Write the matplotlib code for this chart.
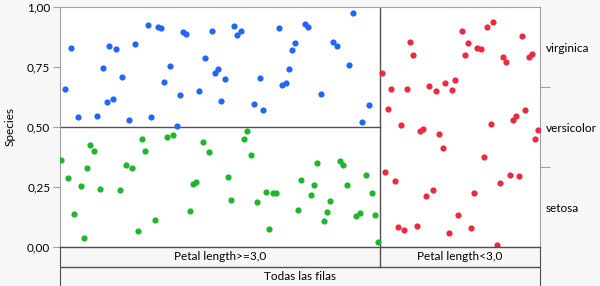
import matplotlib.pyplot as plt

plt.rcParams['font.family'] = ['Lato', 'DejaVu Sans']

# species on the right axis, bottom to top, with row counts
species = ["setosa", "versicolor", "virginica"]
species_counts = [50, 50, 50]
species_colors = {"virginica": "#2266f7", "versicolor": "#1fb52e", "setosa": "#ea2a40"}

# partition: left split / right split
split_labels = ["Petal length>=3,0", "Petal length<3,0"]
split_counts = [100, 50]
left_virginica_share = 0.5
all_rows_label = "Todas las filas"

y_ticks = [0.0, 0.25, 0.5, 0.75, 1.0]
y_ticklabels = ["0,00", "0,25", "0,50", "0,75", "1,00"]

# jittered point positions (x as share of all rows, y as probability)
virginica_x = [0.010, 0.023, 0.037, 0.077, 0.090, 0.097, 0.103, 0.110, 0.117, 0.130,
               0.143, 0.156, 0.183, 0.190, 0.204, 0.210, 0.216, 0.230, 0.243, 0.250,
               0.256, 0.263, 0.290, 0.303, 0.317, 0.323, 0.330, 0.336, 0.343, 0.363,
               0.369, 0.377, 0.404, 0.417, 0.423, 0.456, 0.463, 0.470, 0.477, 0.483,
               0.490, 0.510, 0.517, 0.543, 0.569, 0.577, 0.603, 0.610, 0.630, 0.643]
virginica_y = [0.657, 0.830, 0.542, 0.545, 0.746, 0.605, 0.836, 0.618, 0.826, 0.707,
               0.529, 0.847, 0.926, 0.540, 0.915, 0.914, 0.688, 0.755, 0.504, 0.633,
               0.897, 0.886, 0.650, 0.786, 0.901, 0.724, 0.743, 0.607, 0.700, 0.920,
               0.885, 0.899, 0.595, 0.705, 0.570, 0.911, 0.676, 0.685, 0.742, 0.822,
               0.851, 0.929, 0.915, 0.639, 0.853, 0.836, 0.760, 0.974, 0.520, 0.590]

versicolor_x = [0.003, 0.016, 0.030, 0.043, 0.050, 0.056, 0.063, 0.070, 0.083, 0.124,
                0.137, 0.150, 0.163, 0.170, 0.177, 0.197, 0.223, 0.236, 0.270, 0.277,
                0.283, 0.297, 0.310, 0.350, 0.356, 0.383, 0.390, 0.397, 0.410, 0.430,
                0.436, 0.443, 0.450, 0.496, 0.503, 0.523, 0.530, 0.536, 0.549, 0.556,
                0.563, 0.583, 0.590, 0.597, 0.617, 0.624, 0.637, 0.650, 0.657, 0.663]
versicolor_y = [0.361, 0.288, 0.138, 0.255, 0.036, 0.330, 0.426, 0.400, 0.240, 0.236,
                0.342, 0.328, 0.067, 0.450, 0.401, 0.113, 0.458, 0.468, 0.150, 0.264,
                0.272, 0.439, 0.395, 0.292, 0.196, 0.449, 0.483, 0.382, 0.186, 0.228,
                0.075, 0.226, 0.224, 0.155, 0.278, 0.215, 0.258, 0.349, 0.108, 0.145,
                0.190, 0.358, 0.342, 0.257, 0.128, 0.142, 0.299, 0.225, 0.135, 0.021]

setosa_x = [0.670, 0.690, 0.683, 0.710, 0.723, 0.730, 0.736, 0.750, 0.757, 0.769,
            0.783, 0.790, 0.803, 0.817, 0.823, 0.837, 0.843, 0.850, 0.869, 0.877,
            0.890, 0.903, 0.897, 0.923, 0.930, 0.943, 0.950, 0.963, 0.969, 0.977,
            0.983, 0.996, 0.990, 0.797, 0.883, 0.677, 0.697, 0.763, 0.777, 0.863,
            0.917, 0.937, 0.957, 0.830, 0.704, 0.717, 0.743, 0.810, 0.857, 0.910]
setosa_y = [0.724, 0.660, 0.574, 0.510, 0.660, 0.853, 0.800, 0.482, 0.492, 0.671,
            0.651, 0.472, 0.685, 0.655, 0.695, 0.900, 0.801, 0.851, 0.830, 0.825,
            0.917, 0.936, 0.513, 0.793, 0.770, 0.529, 0.547, 0.878, 0.572, 0.790,
            0.803, 0.486, 0.449, 0.414, 0.375, 0.313, 0.275, 0.211, 0.236, 0.224,
            0.265, 0.300, 0.297, 0.133, 0.083, 0.071, 0.089, 0.060, 0.079, 0.007]

bg = "#f7f7f7"
light = "#a0a0a0"
dark = "#505050"
fs = 8.5

fig = plt.figure(figsize=(6, 2.86), dpi=100, facecolor=bg)
ax = fig.add_axes([60 / 600, 39 / 286, 480 / 600, 240 / 286])
ax.set_facecolor("white")
ax.set_xlim(0, 1)
ax.set_ylim(0, 1)

split = split_counts[0] / sum(split_counts)

points = {"virginica": (virginica_x, virginica_y),
          "versicolor": (versicolor_x, versicolor_y),
          "setosa": (setosa_x, setosa_y)}
for name, (xs, ys) in points.items():
    ax.scatter(xs, ys, s=20, color=species_colors[name], linewidths=0, zorder=3)

ax.axvline(split, color=dark, lw=1, zorder=2)
ax.axhline(left_virginica_share, xmin=0, xmax=split, color=dark, lw=1, zorder=2)

ax.set_xticks([])
ax.set_yticks(y_ticks)
ax.set_yticklabels(y_ticklabels, fontsize=fs)
ax.tick_params(axis="y", length=5, color=light, pad=2)
ax.set_ylabel("Species", fontsize=fs, labelpad=8)
for side in ["top", "left", "right"]:
    ax.spines[side].set_color(light)
ax.spines["bottom"].set_color(dark)

# right axis: overall species shares
ax2 = ax.twinx()
ax2.set_ylim(0, 1)
total = sum(species_counts)
bounds = []
mids = []
acc = 0
for c in species_counts:
    mids.append((acc + c / 2) / total)
    acc += c
    bounds.append(acc / total)
ax2.set_yticks(bounds[:-1])
ax2.set_yticklabels([])
ax2.tick_params(axis="y", which="major", length=7, color=light)
ax2.set_yticks(mids, minor=True)
ax2.set_yticklabels(species, minor=True, fontsize=fs)
ax2.tick_params(axis="y", which="minor", length=0, pad=4)
for side in ["top", "left", "right", "bottom"]:
    ax2.spines[side].set_visible(False)

# bottom label bands
axb = fig.add_axes([60 / 600, 0, 480 / 600, 39 / 286])
axb.set_facecolor(bg)
axb.set_xlim(0, 1)
axb.set_ylim(0, 39)
axb.set_xticks([])
axb.set_yticks([])
axb.spines["top"].set_visible(False)
axb.spines["bottom"].set_visible(False)
axb.spines["left"].set_color(dark)
axb.spines["right"].set_color(dark)
axb.plot([0, 1], [38.8, 38.8], color=dark, lw=1, clip_on=False)
axb.plot([0, 1], [19.5, 19.5], color=dark, lw=1)
axb.plot([split, split], [19.5, 39], color=dark, lw=1)
axb.text(split / 2, 29, split_labels[0], ha="center", va="center", fontsize=fs)
axb.text(split + (1 - split) / 2, 29, split_labels[1], ha="center", va="center", fontsize=fs)
axb.text(0.5, 9.5, all_rows_label, ha="center", va="center", fontsize=fs)

fig.savefig("out.png", dpi=100, facecolor=bg)
